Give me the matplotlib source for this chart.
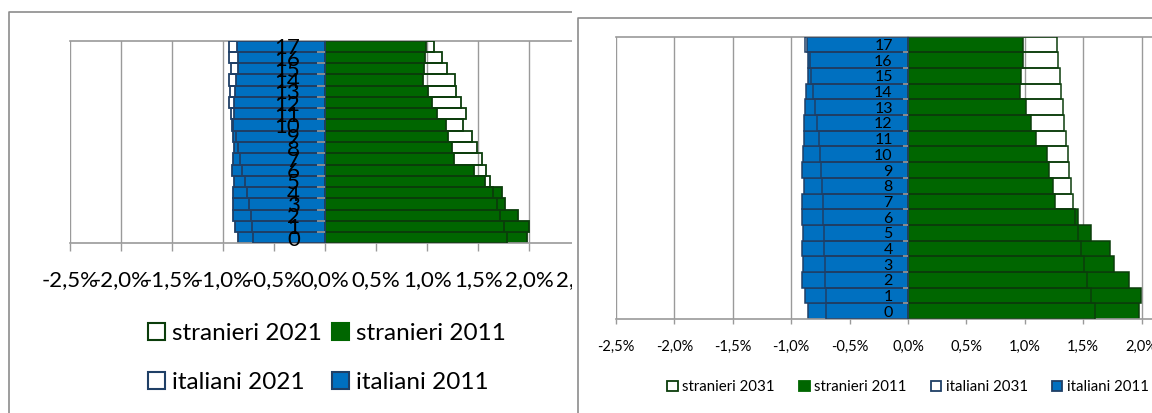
"""
Two population pyramids (stranieri / italiani) side by side,
2011 shares vs projected 2021 and 2031.
"""

import numpy as np
import matplotlib
matplotlib.use("Agg")
import matplotlib.pyplot as plt
from matplotlib.patches import Patch, Rectangle
from matplotlib.lines import Line2D

plt.rcParams["font.family"] = ["Lato", "DejaVu Sans"]

# data (% of population per age class, 0..17)
ages = [str(i) for i in range(18)]

stranieri_2011 = [1.977, 1.993, 1.888, 1.763, 1.728, 1.564, 1.455, 1.258, 1.240,
                  1.205, 1.188, 1.093, 1.050, 1.008, 0.956, 0.965, 0.982, 0.987]
stranieri_2021 = [1.785, 1.753, 1.717, 1.681, 1.642, 1.616, 1.576, 1.537, 1.485,
                  1.439, 1.354, 1.377, 1.335, 1.286, 1.276, 1.198, 1.149, 1.070]
stranieri_2031 = [1.601, 1.570, 1.535, 1.507, 1.484, 1.456, 1.430, 1.413, 1.396,
                  1.381, 1.367, 1.353, 1.338, 1.327, 1.313, 1.298, 1.287, 1.276]

italiani_2011 = [-0.854, -0.884, -0.905, -0.897, -0.905, -0.896, -0.909, -0.905, -0.890,
                 -0.905, -0.903, -0.894, -0.890, -0.880, -0.876, -0.852, -0.854, -0.865]
italiani_2021 = [-0.702, -0.711, -0.728, -0.744, -0.767, -0.783, -0.809, -0.832, -0.855,
                 -0.875, -0.914, -0.924, -0.937, -0.930, -0.940, -0.924, -0.940, -0.937]
italiani_2031 = [-0.705, -0.705, -0.711, -0.713, -0.719, -0.722, -0.725, -0.731, -0.739,
                 -0.745, -0.753, -0.765, -0.779, -0.793, -0.813, -0.830, -0.840, -0.885]

x_ticks = [-2.5, -2.0, -1.5, -1.0, -0.5, 0.0, 0.5, 1.0, 1.5, 2.0, 2.5]
x_labels = ["-2,5%", "-2,0%", "-1,5%", "-1,0%", "-0,5%", "0,0%",
            "0,5%", "1,0%", "1,5%", "2,0%", "2,5%"]

GREEN = "#006600"
GREEN_EDGE = "#0B3D0B"
BLUE = "#0070C0"
BLUE_EDGE = "#1F3F66"
GRAY = "#9A9A9A"
BORDER = "#8C8C8C"

W, H = 1152, 413


def fig_box(left, top, right, bottom):
    # pixel box -> figure fraction [l, b, w, h]
    return [left / W, 1 - bottom / H, (right - left) / W, (bottom - top) / H]


def draw_pyramid(ax, stranieri_new, italiani_new, fs_tick, fs_cat, cat_pad,
                 tick_len, tick_pad, lw):
    y = np.arange(len(ages))
    ax.barh(y, stranieri_2011, height=1.0, color=GREEN, edgecolor=GREEN_EDGE, linewidth=lw, zorder=2)
    ax.barh(y, stranieri_new, height=1.0, facecolor="none", edgecolor=GREEN_EDGE, linewidth=lw, zorder=3)
    ax.barh(y, italiani_2011, height=1.0, color=BLUE, edgecolor=BLUE_EDGE, linewidth=lw, zorder=2)
    ax.barh(y, italiani_new, height=1.0, facecolor="none", edgecolor=BLUE_EDGE, linewidth=lw, zorder=3)

    # category axis sits on the zero line (set before ticks: it resets them)
    ax.spines["left"].set_position(("data", 0))

    ax.set_xlim(-2.5, 2.5)
    ax.set_ylim(-0.5, len(ages) - 0.5)
    ax.set_xticks(x_ticks, x_labels)
    ax.set_yticks(y, ages)
    ax.set_yticks(y[:-1] + 0.5, minor=True)
    ax.tick_params(axis="y", which="major", length=0, pad=cat_pad, labelsize=fs_cat)
    ax.tick_params(axis="y", which="minor", direction="out", length=tick_len,
                   width=1.2, color=GRAY)
    ax.tick_params(axis="x", direction="out", length=tick_len, width=1, color=GRAY,
                   pad=tick_pad, labelsize=fs_tick)
    ax.grid(axis="x", color=GRAY, linewidth=1)
    ax.set_axisbelow(True)
    ax.yaxis.set_zorder(5)

    ax.spines["right"].set_visible(False)
    for name in ("left", "top", "bottom"):
        ax.spines[name].set_color(GRAY)
        ax.spines[name].set_linewidth(1.2)


def legend_handles(lw):
    return {
        "str_new": Patch(facecolor="white", edgecolor=GREEN_EDGE, linewidth=lw),
        "str_old": Patch(facecolor=GREEN, edgecolor=GREEN, linewidth=lw),
        "ita_new": Patch(facecolor="white", edgecolor=BLUE_EDGE, linewidth=lw),
        "ita_old": Patch(facecolor=BLUE, edgecolor=BLUE_EDGE, linewidth=lw),
    }


fig = plt.figure(figsize=(W / 100, H / 100), dpi=100, facecolor="white")

# left chart (2021)
ax1 = fig.add_axes(fig_box(69.7, 40.7, 580.4, 243.3))
ax1.set_zorder(0)
draw_pyramid(ax1, stranieri_2021, italiani_2021, fs_tick=16, fs_cat=16,
             cat_pad=18, tick_len=5.8, tick_pad=13.5, lw=1.3)
h = legend_handles(1.5)
ax1.legend([h["str_new"], h["ita_new"], h["str_old"], h["ita_old"]],
           ["stranieri 2021", "italiani 2021", "stranieri 2011", "italiani 2011"],
           ncol=2, loc="center", bbox_to_anchor=(327 / W, 1 - 358 / H),
           bbox_transform=fig.transFigure, frameon=False, fontsize=17.5,
           handlelength=0.7, handleheight=0.7, handletextpad=0.3,
           columnspacing=0.4, labelspacing=1.15, borderpad=0)

# white panel that clips the left chart where the right one begins
fig.add_artist(Rectangle((572 / W, 0), 1, 1, transform=fig.transFigure,
                         facecolor="white", edgecolor="none", zorder=1))

# right chart (2031)
ax2 = fig.add_axes(fig_box(616, 36.7, 1200, 319))
ax2.set_zorder(2)
draw_pyramid(ax2, stranieri_2031, italiani_2031, fs_tick=10.5, fs_cat=11.5,
             cat_pad=11, tick_len=3.6, tick_pad=11.5, lw=1.1)
h = legend_handles(1.3)
ax2.legend([h["str_new"], h["str_old"], h["ita_new"], h["ita_old"]],
           ["stranieri 2031", "stranieri 2011", "italiani 2031", "italiani 2011"],
           ncol=4, loc="center", bbox_to_anchor=(908 / W, 1 - 387 / H),
           bbox_transform=fig.transFigure, frameon=False, fontsize=10.8,
           handlelength=0.7, handleheight=0.7, handletextpad=0.3,
           columnspacing=1.6, borderpad=0)

# chart borders
fig.add_artist(Line2D([9.3 / W, 9.3 / W, 571.7 / W], [0, 1 - 11.7 / H, 1 - 11.7 / H],
                      color=BORDER, linewidth=1.2, transform=fig.transFigure, zorder=0.5))
fig.add_artist(Line2D([577.7 / W, 577.7 / W, 1.0], [0, 1 - 18.3 / H, 1 - 18.3 / H],
                      color=BORDER, linewidth=1.2, transform=fig.transFigure, zorder=3))

fig.savefig("out.png", dpi=100, facecolor="white")
